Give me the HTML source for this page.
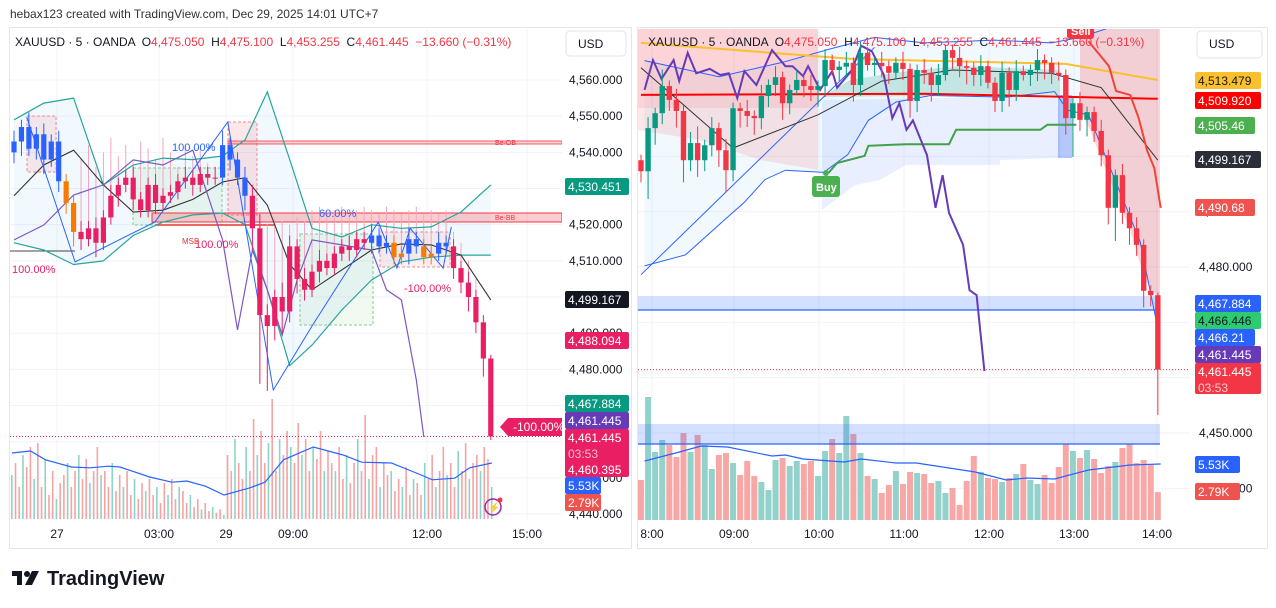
<!DOCTYPE html>
<html><head><meta charset="utf-8">
<style>
html,body{margin:0;padding:0;background:#fff;width:1276px;height:608px;overflow:hidden;}
body{font-family:"Liberation Sans",Arial,sans-serif;}
svg{display:block;overflow:hidden}
text{font-family:"Liberation Sans",Arial,sans-serif;}
</style></head>
<body>
<svg id="svg" width="1276" height="608" viewBox="0 0 1276 608" xmlns="http://www.w3.org/2000/svg">
<defs>
<clipPath id="clipL"><rect x="10" y="29" width="552" height="491"/></clipPath>
<clipPath id="clipR"><rect x="638" y="29" width="552" height="491"/></clipPath>
</defs>
<text x="10" y="18" font-size="12" fill="#333">hebax123 created with TradingView.com, Dec 29, 2025 14:01 UTC+7</text>
<rect x="9.5" y="27.5" width="622" height="521" fill="#fff" stroke="#e6e6e6"/>
<rect x="637.5" y="27.5" width="630" height="521" fill="#fff" stroke="#e6e6e6"/>
<g id="gridL"></g>
<g id="gridR"></g>
<g id="plotL" clip-path="url(#clipL)"></g>
<g id="plotR" clip-path="url(#clipR)"></g>
<g id="axes"></g>
<g>
<rect x="12" y="571" width="10" height="5" fill="#131722"/><rect x="17" y="571" width="5" height="14" fill="#131722"/>
<circle cx="27" cy="574" r="3" fill="#131722"/><polygon points="32,571 39,571 32,585 25,585" fill="#131722"/>
<text x="47" y="585" font-size="20" font-weight="bold" fill="#131722">TradingView</text>
</g>
</svg>
<script>
// ===== LEFT CHART DATA (prices = 4400 + value) =====
const leftCloses=[143,147,141,145,138,143,132,126,118,116,119,115,122,128,131,133,127,124,131,126,128,129,132,133,131,134,133,133,142,138,133,128,119,95,92,100,96,114,105,102,107,110,108,112,114,113,116,115,117,114,115,111,112,116,114,111,112,115,114,108,104,100,93,83,61.445];
const leftOpen0=140;
const leftHiExtra=[3,2,4,2,3,2,3,2,2,3,2,3,2,3,2,2,3,2,2,3,2,2,2,3,2,2,2,3,4,2,2,3,3,4,3,2,4,3,2,3,2,3,2,2,2,3,2,2,3,2,2,2,2,3,2,2,2,3,2,2,2,3,2,2,1];
const leftLoExtra=[3,4,2,3,4,2,3,3,4,3,2,4,2,2,3,2,3,2,2,3,2,2,2,2,3,2,2,2,2,3,2,4,6,19,18,4,6,3,4,3,2,3,2,2,2,3,2,2,3,2,2,2,2,3,2,2,2,2,2,3,3,4,3,5,1];
const leftColorKeys="bbbbbbb"+"oo"+"rrrrrrrrrrrrrrrrrrr"+"bbbb"+"rrrrrrrrrrrrrrrr"+"bbb"+"oo"+"bb"+"oo"+"bb"+"rrrrrr";
// spike tops (price = 4500 + value), 0 = none
const leftSpikes=[0,0,0,0,0,0,0,0,0,38,42,36,40,44,39,42,37,43,41,38,44,40,36,42,39,41,37,0,0,0,0,0,0,21,20,22,21,20,22,21,24,25,23,24,25,23,24,25,24,23,25,24,23,24,25,23,24,23,24,18,15,10,5,0,0];
const leftVolumes=[5.5,7,4,8,6.5,9,5,9.5,4,7.5,3,6,2.5,4.5,5.5,7,4,6,8,5,7.5,4.5,6,9,5.5,
6,4,7,3.5,5.5,4,6,3,5,2.5,4.5,3.5,5,3,4,2,4.5,3,5,2.5,4,3.5,2,3,1.5,2.5,1.2,2,1,1.5,0.8,1.2,0.5,
8,6,10,7,5,9,6,12.5,8,11,7,9.5,15,6,10,8,11,9,7,12,8,10,6,9,7.5,11,6,8.5,7,
6,9,5,8,4.5,7,10,6,13,5,8,9,4,7,5.5,6,3.5,5,4,6.5,3,5,4.5,3,
7,5,8,4,6,9,5.5,7,4,8.5,6,9.5,5,7,8,6,9,7.5,4];
const leftVolMaIdx=[0,5,9,16,21,26,29,37,43,47,52,57,64,68,73,81,89,94,102,110,113,119,123,129];
const leftVolMaVal=[8.25,8.5,7.4,6.5,6.4,6.6,6.5,5.25,4.6,4.75,4.1,3.0,3.9,4.6,7.4,9.0,8.0,7.1,7.0,5.5,4.9,5.1,6.4,7.0];
const leftBandIdx=[0,4,8,12,16,20,24,28,31,34,37,40,44,48,52,56,60,64];
const leftUpper=[4549,4553.6,4555,4531,4536.5,4538.4,4538,4539,4543.4,4556.7,4538,4519,4516.6,4520,4519,4519.4,4523.5,4531];
const leftLower=[4515,4513,4509,4510,4517,4520.7,4522.7,4523.2,4520,4502,4481,4486.7,4496.4,4504.7,4509.7,4511,4511.6,4511.6];
const leftMaVal=[4528,4536.5,4540.6,4531,4523.5,4524,4527,4531.8,4533,4525.4,4509,4502,4507.5,4513,4514.7,4514.4,4511.6,4499.2];
const leftPurpleIdx=[0,4,8,12,16,20,24,28,30,32,34,36,38,40,44,48,50,52,54,55];
const leftPurpleVal=[4515.8,4519.9,4528.2,4531,4537.9,4536.5,4540.6,4515.8,4490.9,4513,4502,4489.5,4504.7,4515.8,4514.4,4513,4502,4499.2,4477.1,4461.3];
const leftZigIdx=[1.7,8.2,18.9,28.7,34.8,40.1,48.9,51.4,53.2,57.6,58.7];
const leftZigVal=[4549.8,4509.7,4520.7,4548.4,4474.3,4492.3,4520.7,4508,4519,4508,4519.4];
const leftTicks=[4560,4550,4540,4530,4520,4510,4500,4490,4480,4470,4460,4450,4440];
const leftTimeLabels=["27","03:00","29","09:00","12:00","15:00"];
const leftTimeX=[57,159,226,293,427,527];

// ===== RIGHT CHART DATA =====
const rightCloses=[97.3,105.1,107.8,112.7,110.2,108.2,99.3,102.4,99.3,102.0,105.1,101.1,97.5,108.7,108.2,107.3,106.9,110.9,112.9,114.3,109.6,112.0,113.8,112.7,112.0,112.7,117.4,115.6,116.2,116.9,112.9,118.7,116.5,116.9,116.3,115.1,116.9,115.8,110.0,115.6,115.1,112.9,114.7,119.2,117.8,116.3,116.0,114.7,116.3,113.3,110.0,115.1,112.0,115.4,114.7,115.6,117.4,116.9,115.1,114.7,106.9,109.6,106.6,108.0,104.6,100.2,90.7,96.6,89.8,87.0,84.0,75.7,74.9,61.445];
const rightOpen0=99.3;
const rightHiExtra=[1,2,1,3,1,2,1,2,3,1,2,1,2,1,1,2,1,2,1,2,1,1,2,1,2,1,2,1,1,2,1,2,1,1,2,1,1,2,1,1,2,1,2,1,1,2,1,1,2,1,1,2,1,2,1,1,2,1,1,2,1,1,2,1,1,2,1,1,2,1,2,1,1,0.5];
const rightLoExtra=[2,5,3,2,2,3,4,2,3,2,2,3,4,2,3,2,3,2,2,2,3,2,1,2,2,3,2,1,2,2,3,2,1,2,2,2,1,2,3,2,2,3,2,1,2,2,3,2,2,1,2,2,3,2,1,2,2,3,2,1,3,7,2,3,2,2,3,6,2,3,2,3,2,8.2];
const rightVolumes=[4.0,12.3,6.8,8.0,7.5,6.3,8.7,6.8,8.5,7.5,5.1,6.5,6.7,5.7,4.5,5.9,4.4,3.8,3.0,6.0,6.2,5.4,5.9,5.6,5.9,4.4,6.9,8.1,6.7,10.4,8.6,6.7,4.4,4.1,2.7,3.5,4.9,3.6,4.8,4.7,4.6,3.7,3.9,2.7,3.2,1.5,3.9,6.4,4.8,4.2,4.1,3.8,4.2,4.6,5.6,4.0,3.6,4.5,3.7,5.3,7.6,6.9,6.2,7.0,6.1,4.7,5.4,5.8,7.2,7.6,5.7,6.0,5.6,2.79];
const rightVolMaIdx=[0.5,4.9,8.5,12.2,18.5,20.4,22.9,28.7,31.1,36,38.9,47.2,51.6,54.5,58.4,63.2,69.1,73.4];
const rightVolMaVal=[5.9,6.7,7.4,7.3,6.4,6.5,6.1,5.8,6.1,5.7,5.7,4.8,4.0,4.2,4.1,5.0,5.5,5.6];
const rightOrangeIdx=[0,30,60,73];
const rightOrangeVal=[4520.5,4517.6,4516.7,4513.8];
const rightRedLineIdx=[0,40,73];
const rightRedLineVal=[4511.1,4511.3,4510.4];
const rightMaIdx=[0,13,25,34,44,58,65,73];
const rightMaVal=[4516,4501.5,4507.5,4513.6,4515.6,4515,4512.4,4499.3];
const rightPurpleIdx=[0.5,1.7,2.9,4.6,5.4,6.6,7.8,9.7,11.2,12.4,13.6,14.6,16.3,18.5,20.4,21.4,22.9,23.6,25.3,27,27.7,29.7,31.1,32.6,34.3,35.5,36.5,37.5,38.4,40.4,41.6,42.6,43.5,45.5,46.4,47.4,48.5];
const rightPurpleVal=[4512,4517.4,4514,4517.4,4513.6,4518.7,4515,4515.8,4514.7,4515,4510.5,4515.4,4512.9,4519.2,4516.3,4516.3,4514.5,4516.3,4512,4515.4,4512.4,4515.4,4520,4519,4514.7,4506.9,4509.6,4504.8,4506.5,4500.2,4490.7,4496.6,4489.8,4484,4475.8,4474.9,4461.2];
const rightLowerBandIdx=[0.5,6.3,11.7,14.6,17.5,20.4,25.8,29.2,32.1,36,40.9,51.6,58.4,60.3,63.2,70.5,73];
const rightLowerBandVal=[4480.2,4482.2,4488.4,4491.7,4495.8,4497.5,4497.1,4500.3,4506.5,4509.8,4511,4510.7,4511.7,4508.3,4507.5,4484.6,4468.9];
const rightUpperBandIdx=[0.5,11,20,27,33,40,50,58,62,68,73];
const rightUpperBandVal=[4517.3,4514.4,4517,4519.5,4521.5,4520.5,4521,4520.5,4521.5,4524,4525];
const rightTrendIdx=[0,33];
const rightTrendVal=[4478.6,4519.7];
const rightStepIdx=[26.5,27.7,31.6,32.1,37.5,43.5,44.5,56.4,57.4,61.5];
const rightStepVal=[4497,4498.8,4500.1,4501.9,4502.2,4502.2,4504.8,4504.8,4505.7,4505.7];
const rightRedFallIdx=[63.2,66.1,67.1,69.1,70.3,71.5,72.5,73.4];
const rightRedFallVal=[4520.8,4516.3,4511.8,4511.1,4506.9,4501,4497.9,4490.7];
const rightTicks=[4500,4490,4480,4470,4460,4450,4440];
const rightTimeLabels=["8:00","09:00","10:00","11:00","12:00","13:00","14:00"];
const rightTimeX=[652,734,819,904,989,1074,1157];

// ===== scales =====
const lx=i=>14+7.45*i, ly=v=>80+(4560-v)*3.617;
const rx=i=>641+7.08*i, ry=v=>267-(v-4480)*5.533;
const NS="http://www.w3.org/2000/svg";
function mk(tag,attrs,parent){const e=document.createElementNS(NS,tag);for(const k in attrs)e.setAttribute(k,attrs[k]);parent.appendChild(e);return e;}
function txt(s,attrs,parent){const e=mk('text',attrs,parent);e.textContent=s;return e;}
function pts(idx,val,fx,fy){return idx.map((i,k)=>fx(i).toFixed(1)+','+fy(val[k]).toFixed(1)).join(' ');}

const gL=document.getElementById('gridL'),gR=document.getElementById('gridR');
const pL=document.getElementById('plotL'),pR=document.getElementById('plotR'),ax=document.getElementById('axes');

leftTicks.forEach(v=>{const l=mk('line',{x1:10,x2:562,y1:ly(v),y2:ly(v),stroke:'#f0f3fa'},gL);

});
leftTimeX.forEach(x=>{const l=mk('line',{x1:x,x2:x,y1:29,y2:520,stroke:'#f0f3fa'},gL);

});
rightTicks.forEach(v=>{const l=mk('line',{x1:638,x2:1190,y1:ry(v),y2:ry(v),stroke:'#f0f3fa'},gR);

});
rightTimeX.forEach(x=>{const l=mk('line',{x1:x,x2:x,y1:29,y2:520,stroke:'#f0f3fa'},gR);

});

// ===== LEFT PLOT =====
{const up=leftBandIdx.map((i,k)=>lx(i)+','+ly(leftUpper[k]));const lo=leftBandIdx.map((i,k)=>lx(i)+','+ly(leftLower[k])).reverse();
const f=mk('polygon',{points:up.concat(lo).join(' '),fill:'rgba(33,150,243,0.06)'},pL);

}
[[27,116,29,56,'rgba(242,54,69,0.1)','#f28b8b'],[228,122,29,93,'rgba(242,54,69,0.12)','#f28b8b'],[133,168,89,57,'rgba(76,175,80,0.08)','#8bc98f'],[300,234,73,91,'rgba(76,175,80,0.08)','#8bc98f'],[380,232,70,35,'rgba(242,54,69,0.08)','#f28b8b']].forEach(b=>{
const r=mk('rect',{x:b[0],y:b[1],width:b[2],height:b[3],fill:b[4],stroke:b[5],'stroke-dasharray':'3,2'},pL);

});
{const r=mk('rect',{x:152,y:213,width:410,height:9,fill:'rgba(242,54,69,0.25)',stroke:'#f23645','stroke-width':1},pL);


const r2=mk('rect',{x:228,y:141,width:334,height:3,fill:'rgba(242,54,69,0.2)',stroke:'#f23645','stroke-width':0.8},pL);


const t1=txt('Be-OB',{x:495,y:145,'font-size':7,fill:'#f23645'},pL);


const t2=txt('Be-BB',{x:495,y:220,'font-size':7,fill:'#f23645'},pL);


const hl=mk('line',{x1:10,x2:75,y1:251,y2:251,stroke:'#444'},pL);


const hl2=mk('line',{x1:155,x2:275,y1:225,y2:225,stroke:'#e53935','stroke-width':1.5},pL);

}
leftSpikes.forEach((s,i)=>{if(!s)return;const c=leftCloses[i];const o=i?leftCloses[i-1]:leftOpen0;
const l=mk('line',{x1:lx(i),x2:lx(i),y1:ly(4500+s),y2:ly(4400+Math.max(o,c)),stroke:'#f3a6bf','stroke-width':1},pL);

});
leftVolumes.forEach((v,j)=>{const r=mk('rect',{x:11+3.72*j,y:519-v*8,width:1.6,height:v*8,fill:(j%3===0)?'#8fd3c8':'#f5a3a3'},pL);

});
{const l=mk('polyline',{points:leftVolMaIdx.map((j,k)=>(12+3.72*j)+','+(519-leftVolMaVal[k]*8)).join(' '),fill:'none',stroke:'#2962ff','stroke-width':1.2},pL);

}
[[leftUpper,'#26a69a'],[leftLower,'#26a69a']].forEach(b=>{const l=mk('polyline',{points:pts(leftBandIdx,b[0],lx,ly),fill:'none',stroke:b[1],'stroke-width':1.2},pL);

});
{const l=mk('polyline',{points:pts(leftBandIdx,leftMaVal,lx,ly),fill:'none',stroke:'#333','stroke-width':1.1},pL);

}
{const l=mk('polyline',{points:pts(leftPurpleIdx,leftPurpleVal,lx,ly),fill:'none',stroke:'#7e57c2','stroke-width':1.2},pL);

}
{const l=mk('polyline',{points:pts(leftZigIdx,leftZigVal,lx,ly),fill:'none',stroke:'#2962ff','stroke-width':1},pL);

}
const colMap={b:'#2962ff',o:'#f57c00',r:'#e91e63',g:'#089981'};
leftCloses.forEach((c,i)=>{const o=i?leftCloses[i-1]:leftOpen0;const col=colMap[leftColorKeys[i]];
const hi=4400+Math.max(o,c)+leftHiExtra[i],lo=4400+Math.min(o,c)-leftLoExtra[i];
const w=mk('line',{x1:lx(i),x2:lx(i),y1:ly(hi),y2:ly(lo),stroke:col,'stroke-width':1},pL);


const y1=ly(4400+Math.max(o,c)),y2=ly(4400+Math.min(o,c));
const b=mk('rect',{x:lx(i)-2.6,y:y1,width:5.2,height:Math.max(1,y2-y1),fill:col},pL);

});
{const l=mk('line',{x1:10,x2:562,y1:ly(4461.445),y2:ly(4461.445),stroke:'#e91e63','stroke-dasharray':'1,2'},pL);

}
[['100.00%',172,151,'#2962ff'],['60.00%',319,217,'#2962ff'],['100.00%',195,248,'#e91e63'],['100.00%',12,273,'#e91e63'],['-100.00%',404,292,'#e91e63']].forEach(t=>{
const e=txt(t[0],{x:t[1],y:t[2],'font-size':11,fill:t[3]},pL);

});
{const e=txt('MSB',{x:182,y:244,'font-size':8,fill:'#e53935'},pL);

}
{const c=mk('circle',{cx:493,cy:507,r:8,fill:'none',stroke:'#9c27b0','stroke-width':1.5},pL);


const d=mk('circle',{cx:500,cy:500,r:2.5,fill:'#f23645'},pL);


const t=txt('⚡',{x:488,y:511,'font-size':10,fill:'#9c27b0'},pL);

}

// ===== RIGHT PLOT =====
{const up=rightUpperBandIdx.map((i,k)=>rx(i)+','+ry(rightUpperBandVal[k]));const lo=rightLowerBandIdx.map((i,k)=>rx(i)+','+ry(rightLowerBandVal[k])).reverse();
const f=mk('polygon',{points:up.concat(lo).join(' '),fill:'rgba(33,150,243,0.06)'},pR);

}
{const r=mk('rect',{x:638,y:28,width:180,height:80,fill:'rgba(242,54,69,0.22)'},pR);


const r1=mk('polygon',{points:'638,108 818,108 818,170 760,160 700,140 638,130',fill:'rgba(242,54,69,0.12)'},pR);


const r2=mk('polygon',{points:'822,100 1060,96 1060,158 1000,160 1000,165 906,165 880,180 855,185 822,210',fill:'rgba(41,98,255,0.1)'},pR);


const r3=mk('polygon',{points:'822,97 850,80 900,72 960,66 1060,70 1060,95 822,97',fill:'rgba(8,153,129,0.2)'},pR);


const r4=mk('rect',{x:1058,y:95,width:14,height:63,fill:'rgba(41,98,255,0.35)'},pR);


const r5=mk('polygon',{points:'1080,28 1160,28 1160,300 1145,280 1130,230 1110,180 1090,130 1080,110',fill:'rgba(242,54,69,0.22)'},pR);


const z=mk('rect',{x:638,y:296,width:522,height:14,fill:'rgba(41,98,255,0.2)'},pR);


const zl=mk('line',{x1:638,x2:1160,y1:310,y2:310,stroke:'#2962ff','stroke-width':1.2},pR);

}
rightVolumes.forEach((v,i)=>{const c=rightCloses[i],o=i?rightCloses[i-1]:rightOpen0;
const r=mk('rect',{x:rx(i)-3,y:520-v*10,width:6,height:v*10,fill:c>=o?'#92d2cb':'#f7a8a6'},pR);

});
{const z=mk('rect',{x:638,y:424,width:522,height:20,fill:'rgba(41,98,255,0.2)'},pR);


const zl=mk('line',{x1:638,x2:1160,y1:444,y2:444,stroke:'#2962ff','stroke-width':1.2},pR);


const l=mk('polyline',{points:rightVolMaIdx.map((i,k)=>rx(i)+','+(520-rightVolMaVal[k]*10)).join(' '),fill:'none',stroke:'#2962ff','stroke-width':1.2},pR);

}
[[rightUpperBandIdx,rightUpperBandVal,'#2962ff',1,'right-upper-band'],[rightLowerBandIdx,rightLowerBandVal,'#2962ff',1,'right-lower-band'],[rightTrendIdx,rightTrendVal,'#2962ff',1,'right-trendline'],[rightOrangeIdx,rightOrangeVal,'#fbc02d',2,'right-orange-ma'],[rightRedLineIdx,rightRedLineVal,'#ff0000',2,'right-red-line'],[rightMaIdx,rightMaVal,'#333',1,'right-moving-average'],[rightStepIdx,rightStepVal,'#43a047',2,'right-step-line'],[rightRedFallIdx,rightRedFallVal,'#f44336',2,'right-red-falling-line'],[rightPurpleIdx,rightPurpleVal,'#673ab7',2,'right-purple-indicator']].forEach(s=>{
const l=mk('polyline',{points:pts(s[0],s[1],rx,ry),fill:'none',stroke:s[2],'stroke-width':s[3]},pR);

});
rightCloses.forEach((c,i)=>{const o=i?rightCloses[i-1]:rightOpen0;const col=c>=o?'#089981':'#f23645';
const hi=4400+Math.max(o,c)+rightHiExtra[i],lo=4400+Math.min(o,c)-rightLoExtra[i];
const w=mk('line',{x1:rx(i),x2:rx(i),y1:ry(hi),y2:ry(lo),stroke:col,'stroke-width':1},pR);


const y1=ry(4400+Math.max(o,c)),y2=ry(4400+Math.min(o,c));
const b=mk('rect',{x:rx(i)-2.7,y:y1,width:5.4,height:Math.max(1,y2-y1),fill:col},pR);

});
{const l=mk('line',{x1:638,x2:1190,y1:ry(4461.445),y2:ry(4461.445),stroke:'#f23645','stroke-dasharray':'1,2'},pR);

}
{const d=mk('circle',{cx:826,cy:173,r:3,fill:'#4caf50'},pR);


const r=mk('rect',{x:812,y:176,width:28,height:21,rx:3,fill:'#4caf50'},pR);


const t=txt('Buy',{x:816,y:191,'font-size':11,'font-weight':'bold',fill:'#fff'},pR);


const s=mk('rect',{x:1067,y:20,width:27,height:19,rx:3,fill:'#f23645'},pR);


const st=txt('Sell',{x:1071,y:35,'font-size':11,'font-weight':'bold',fill:'#fff'},pR);

}

function legend(x,parent,name){const t=txt('',{x:x,y:46,'font-size':12,fill:'#131722'},parent);


[['XAUUSD · 5 · OANDA  O','#131722'],['4,475.050','#f23645'],['  H','#131722'],['4,475.100','#f23645'],['  L','#131722'],['4,453.255','#f23645'],['  C','#131722'],['4,461.445','#f23645'],['  −13.660 (−0.31%)','#f23645']].forEach(p=>{const s=mk('tspan',{fill:p[1]},t);s.textContent=p[0];});
t.setAttribute('style','white-space:pre');}
legend(15,ax,'left-symbol-legend');
legend(648,ax,'right-symbol-legend');

leftTicks.forEach(v=>{const t=txt(v.toLocaleString('en-US',{minimumFractionDigits:3}),{x:569,y:ly(v)+4,'font-size':12,fill:'#131722'},ax);

});
rightTicks.forEach(v=>{const t=txt(v.toLocaleString('en-US',{minimumFractionDigits:3}),{x:1199,y:ry(v)+4,'font-size':12,fill:'#131722'},ax);

});
leftTimeLabels.forEach((s,k)=>{const t=txt(s,{x:leftTimeX[k],y:538,'font-size':12,fill:'#131722','text-anchor':'middle'},ax);

});
rightTimeLabels.forEach((s,k)=>{const t=txt(s,{x:rightTimeX[k],y:538,'font-size':12,fill:'#131722','text-anchor':'middle'},ax);

});
function tag(x,y,w,h,bg,fg,lines,name){const r=mk('rect',{x:x,y:y,width:w,height:h,rx:2,fill:bg},ax);


lines.forEach((s,k)=>{const t=txt(s[0],{x:x+3,y:y+13+k*16,'font-size':12,fill:s[1]||fg},ax);

});}
[[566,31,60,25],[1197,31,65,27]].forEach(b=>{const r=mk('rect',{x:b[0],y:b[1],width:b[2],height:b[3],rx:4,fill:'#fff',stroke:'#e0e3eb'},ax);


const t=txt('USD',{x:b[0]+12,y:b[1]+17,'font-size':12,fill:'#131722'},ax);

});
tag(565,178,64,17,'#089981','#fff',[['4,530.451']],'tag-4530');
tag(565,291,64,17,'#131722','#fff',[['4,499.167']],'tag-4499-left');
tag(565,332,64,17,'#e91e63','#fff',[['4,488.094']],'tag-4488');
tag(565,395,64,17,'#089981','#fff',[['4,467.884']],'tag-4467-left');
tag(565,412,64,17,'#673ab7','#fff',[['4,461.445']],'tag-4461-purple-left');
tag(565,429,64,48,'#e91e63','#fff',[['4,461.445'],['03:53','#f8bbd0'],['4,460.395']],'tag-last-price-left');
tag(565,477,36,17,'#2962ff','#fff',[['5.53K']],'tag-volma-left');
tag(565,494,36,17,'#ef5350','#fff',[['2.79K']],'tag-vol-left');
{const p=mk('polygon',{points:'500,427 508,418 562,418 562,436 508,436',fill:'#e91e63'},ax);


const t=txt('-100.00%',{x:513,y:431,'font-size':12,fill:'#fff'},ax);

}
tag(1195,72,66,17,'#fbc02d','#131722',[['4,513.479']],'tag-4513');
tag(1195,92,66,17,'#ff0000','#fff',[['4,509.920']],'tag-4509');
tag(1195,117,60,17,'#4caf50','#fff',[['4,505.46']],'tag-4505');
tag(1195,151,66,17,'#2a2e39','#fff',[['4,499.167']],'tag-4499-right');
tag(1195,199,60,17,'#ef5350','#fff',[['4,490.68']],'tag-4490');
tag(1195,295,66,17,'#2962ff','#fff',[['4,467.884']],'tag-4467-right');
tag(1195,312,66,17,'#2ecc71','#131722',[['4,466.446']],'tag-4466');
tag(1195,329,60,17,'#2962ff','#fff',[['4,466.21']],'tag-4466-21');
tag(1195,346,66,17,'#673ab7','#fff',[['4,461.445']],'tag-4461-purple-right');
tag(1195,363,66,31,'#f23645','#fff',[['4,461.445'],['03:53','#fcc']],'tag-last-price-right');
tag(1195,456,45,17,'#2962ff','#fff',[['5.53K']],'tag-volma-right');
tag(1195,483,45,17,'#ef5350','#fff',[['2.79K']],'tag-vol-right');
</script>
</body></html>
